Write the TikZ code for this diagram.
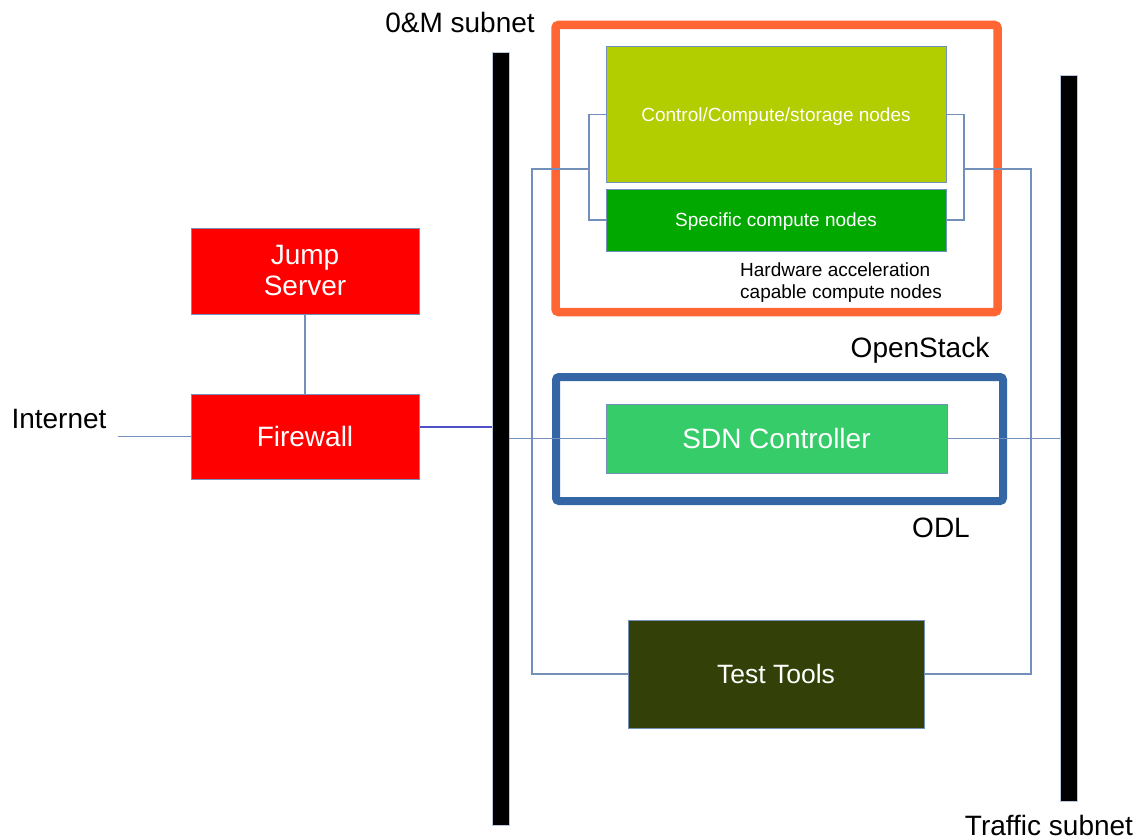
\documentclass[tikz,border=0pt]{standalone}
\usepackage{fontspec}
\setmainfont{Liberation Sans}
\usetikzlibrary{positioning, calc}

\begin{document}
\begin{tikzpicture}[x=1pt, y=-1pt, font=\fontsize{28}{31}\selectfont]
  % Define colors for the different parts
  \definecolor{jumpred}{RGB}{255, 0, 0}
  \definecolor{ctrlgreen}{RGB}{178, 206, 0}
  \definecolor{specgreen}{RGB}{0, 168, 0}
  \definecolor{sdngreen}{RGB}{54, 204, 106}
  \definecolor{tooldark}{RGB}{51, 64, 7}
  \definecolor{osorange}{RGB}{255, 102, 51}
  \definecolor{odlblue}{RGB}{52, 101, 164}
  \definecolor{linkblue}{RGB}{114, 144, 186}
  \definecolor{fwblue}{RGB}{80, 80, 200}

  \tikzset{
    box/.style={draw=linkblue, line width=1pt, inner sep=0pt, align=center, text=white},
    bus/.style={fill=black, draw=linkblue!50, line width=0.5pt, inner sep=0pt, minimum width=17pt},
    link/.style={draw=linkblue, line width=1.3pt},
    tag/.style={anchor=base, inner sep=0pt, text=black}
  }

  % Fix the page size
  \useasboundingbox (0,0) rectangle (1138,840);

  % Subnet buses
  \node[bus, minimum height=773pt] (omm) at (500.5,438.5) {};
  \node[bus, minimum height=726pt] (traffic) at (1068.5,438) {};
  \node[tag] (ommlabel) at (460,33) {0\&M subnet};
  \node[tag] (trafficlabel) at (1049,835) {Traffic subnet};

  % OpenStack and ODL frames
  \draw[osorange, line width=8.5pt, rounded corners=3pt] (555.5,25) rectangle (997.5,312);
  \draw[odlblue, line width=8pt, rounded corners=3pt] (556,377) rectangle (1003,501);
  \node[tag] (oslabel) at (920,357) {OpenStack};
  \node[tag] (odllabel) at (941,537) {ODL};

  % Left side: jump server and firewall
  \node[box, fill=jumpred, minimum width=228pt, minimum height=86pt] (jump) at (305,271) {Jump\\Server};
  \node[box, fill=jumpred, minimum width=228pt, minimum height=85pt, below=79pt of jump] (fw) {Firewall};
  \node[tag] (inet) at (59,428) {Internet};
  \coordinate (inetend) at ($(fw.west)+(-73,0)$);

  % OpenStack nodes
  \node[box, fill=ctrlgreen, minimum width=340pt, minimum height=136pt, text depth=0pt, font=\fontsize{19}{22}\selectfont] (ctrl) at (776,114.7) {Control/Compute/storage nodes};
  \node[box, fill=specgreen, minimum width=340pt, minimum height=62pt, text depth=0pt, below=5.3pt of ctrl, font=\fontsize{19}{22}\selectfont] (spec) {Specific compute nodes};
  \node[anchor=north west, inner sep=0pt, align=left, font=\fontsize{19}{22}\selectfont] (hwlabel) at (740,263) {Hardware acceleration\\capable compute nodes};

  % SDN controller and test tools
  \node[box, fill=sdngreen, minimum width=341pt, minimum height=69pt] (sdn) at (776.5,438.5) {SDN Controller};
  \node[box, fill=tooldark, minimum width=296pt, minimum height=108pt, font=\fontsize{26.5}{30}\selectfont] (tools) at (776,674) {Test Tools};

  % Bracket and corner points
  \coordinate (lbr) at (589,169);
  \coordinate (rbr) at (964,169);
  \coordinate (lcorner) at (532,674);
  \coordinate (rcorner) at (1031,674);

  % Connections
  \draw[link] (jump.south) -- (fw.north);
  \draw[link] (inetend) -- (fw.west);
  \draw[fwblue, line width=1.3pt] (fw.east |- 0,427) -- (omm.west |- 0,427);
  \draw[link] (omm.east |- sdn.west) -- (sdn.west);
  \draw[link] (sdn.east) -- (traffic.west |- sdn.east);
  \draw[link] (ctrl.west) -| (lbr) |- (spec.west);
  \draw[link] (ctrl.east) -| (rbr) |- (spec.east);
  \draw[link] (lbr) -| (lcorner) -- (tools.west);
  \draw[link] (rbr) -| (rcorner) -- (tools.east);
\end{tikzpicture}
\end{document}
